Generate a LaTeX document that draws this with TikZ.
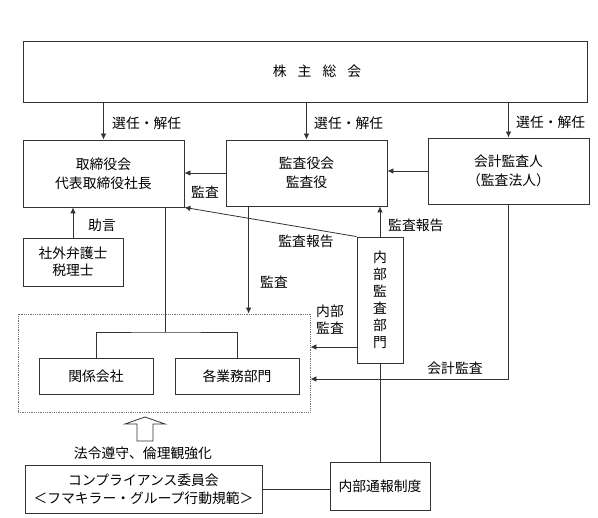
\documentclass[tikz,border=0pt]{standalone}
\usepackage{fontspec}
\setmainfont{Noto Sans CJK JP}
\usetikzlibrary{arrows.meta}

\begin{document}
\begin{tikzpicture}[x=1pt, y=-1pt]
\tikzset{boite/.style={draw, black!80, line width=0.8pt, text=black, inner sep=0pt, align=center, font=\fontsize{13.8}{19}\selectfont},
  etiquette/.style={inner sep=0pt, align=center, font=\fontsize{13.8}{17}\selectfont},
  trait/.style={black!80, line width=0.8pt},
  fleche/.style={trait, -{Latex[length=6pt, width=5.5pt]}}}
\useasboundingbox (0,0) rectangle (598,518);
\node[boite, minimum width=564pt, minimum height=61pt] (soukai) at (305,71.5) {\hspace*{24pt}株\hspace{0.8em}主\hspace{0.8em}総\hspace{0.8em}会};
\node[boite, minimum width=161pt, minimum height=67pt] (torishimari) at (103.5,173.5) {取締役会\\代表取締役社長};
\node[boite, minimum width=161pt, minimum height=66pt] (kansayaku) at (306.5,173) {監査役会\\監査役};
\node[boite, minimum width=161pt, minimum height=66pt] (kaikei) at (508.5,171) {会計監査人\\（監査法人）};
\node[boite, minimum width=100pt, minimum height=48pt, font=\fontsize{13.8}{17}\selectfont] (gaibu) at (73,262) {社外弁護士\\税理士};
\node[boite, minimum width=46pt, minimum height=126pt, font=\fontsize{13.8}{17}\selectfont] (naibu) at (380,300) {内\\部\\監\\査\\部\\門};
\node[draw, densely dotted, black!55, line width=0.8pt, minimum width=292pt, minimum height=98pt] (groupe) at (164,363) {};
\node[boite, minimum width=114pt, minimum height=36pt] (kankei) at (96,376) {関係会社};
\node[boite, minimum width=124pt, minimum height=36pt] (gyomu) at (237,376) {各業務部門};
\node[boite, minimum width=237pt, minimum height=48pt, font=\fontsize{13.8}{18}\selectfont] (compliance) at (143.5,489) {コンプライアンス委員会\\＜フマキラー・グループ行動規範＞};
\node[boite, minimum width=100pt, minimum height=48pt] (tsuho) at (380,486) {内部通報制度};
% etiquettes
\node[etiquette, anchor=west] (L1) at (112,123) {選任・解任};
\node[etiquette, anchor=west] (L2) at (314,123) {選任・解任};
\node[etiquette, anchor=west] (L3) at (516,122) {選任・解任};
\node[etiquette] (L4) at (205,192) {監査};
\node[etiquette] (L5) at (306,241) {監査報告};
\node[etiquette, anchor=west] (L6) at (388,225) {監査報告};
\node[etiquette] (L7) at (102,225) {助言};
\node[etiquette] (L8) at (274,282) {監査};
\node[etiquette] (L9) at (330,320) {内部\\監査};
\node[etiquette] (L10) at (455,368) {会計監査};
\node[etiquette] (L11) at (143,453) {法令遵守、倫理観強化};
% fleches
\draw[fleche] (soukai.south -| torishimari.north) -- (torishimari.north);
\draw[fleche] (soukai.south -| kansayaku.north) -- (kansayaku.north);
\draw[fleche] (soukai.south -| kaikei.north) -- (kaikei.north);
\draw[fleche] (kansayaku.west) -- (kansayaku.west -| torishimari.east);
\draw[fleche] (kaikei.west) -- (kaikei.west -| kansayaku.east);
\draw[fleche] (naibu.north west) -- (torishimari.south east);
\draw[fleche] (naibu.north) -- (naibu.north |- kansayaku.south);
\draw[fleche] (gaibu.north) -- (gaibu.north |- torishimari.south);
\draw[fleche] ([xshift=23pt]kansayaku.south west) -- ([xshift=23pt]kansayaku.south west |- groupe.north);
\draw[fleche] ([yshift=-47pt]naibu.west) -- ([yshift=-47pt]naibu.west -| groupe.east);
\coordinate (coin) at (508.5,379);
\draw[fleche] (kaikei.south) -- (coin) -- (coin -| groupe.east);
\coordinate (bifurcation) at (165,332);
\draw[trait] (bifurcation |- torishimari.south) -- (bifurcation);
\draw[trait] (kankei.north) |- (bifurcation) -| (gyomu.north);
\draw[trait] (naibu.south) -- (tsuho.north);
\draw[trait] (compliance.east) -- (compliance.east -| tsuho.west);
% grosse fleche
\coordinate (base) at (145,441);
\draw[trait] (base) ++(-8,0) -- ++(0,-17) -- ++(-12,0) -- (145,417) -- (165,424) -- ++(-12,0) -- ++(0,17) -- cycle;
\end{tikzpicture}
\end{document}
